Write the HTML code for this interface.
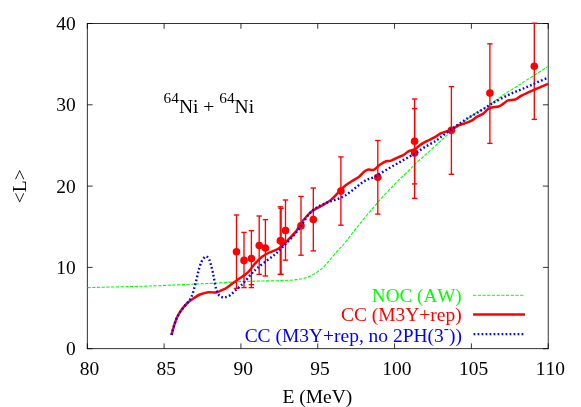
<!DOCTYPE html><html><head><meta charset="utf-8"><title>plot</title><style>html,body{margin:0;padding:0;background:#fff}svg{display:block;will-change:transform}text{font-kerning:none;font-family:"Liberation Serif",serif;font-size:18.8px;fill:#000}</style></head><body>
<svg width="581" height="407" viewBox="0 0 581 407">
<rect width="581" height="407" fill="#fff"/>
<g stroke="#000" stroke-width="0.8" fill="none">
<rect x="87.30" y="23.50" width="460.90" height="325.20"/>
<path d="M87.30 348.70V343.40M87.30 23.50V28.80"/>
<path d="M164.12 348.70V343.40M164.12 23.50V28.80"/>
<path d="M240.93 348.70V343.40M240.93 23.50V28.80"/>
<path d="M317.75 348.70V343.40M317.75 23.50V28.80"/>
<path d="M394.57 348.70V343.40M394.57 23.50V28.80"/>
<path d="M471.38 348.70V343.40M471.38 23.50V28.80"/>
<path d="M548.20 348.70V343.40M548.20 23.50V28.80"/>
<path d="M87.30 348.70H92.60M548.20 348.70H542.90"/>
<path d="M87.30 267.40H92.60M548.20 267.40H542.90"/>
<path d="M87.30 186.10H92.60M548.20 186.10H542.90"/>
<path d="M87.30 104.80H92.60M548.20 104.80H542.90"/>
<path d="M87.30 23.50H92.60M548.20 23.50H542.90"/>
</g>
<text transform="translate(89.50,374.50) scale(1.0367,1)" text-anchor="middle">80</text>
<text transform="translate(166.32,374.50) scale(1.0367,1)" text-anchor="middle">85</text>
<text transform="translate(243.13,374.50) scale(1.0367,1)" text-anchor="middle">90</text>
<text transform="translate(319.95,374.50) scale(1.0367,1)" text-anchor="middle">95</text>
<text transform="translate(396.77,374.50) scale(1.0367,1)" text-anchor="middle">100</text>
<text transform="translate(473.58,374.50) scale(1.0367,1)" text-anchor="middle">105</text>
<text transform="translate(550.40,374.50) scale(1.0367,1)" text-anchor="middle">110</text>
<text transform="translate(75.70,355.10) scale(1.0367,1)" text-anchor="end">0</text>
<text transform="translate(75.70,273.80) scale(1.0367,1)" text-anchor="end">10</text>
<text transform="translate(75.70,192.50) scale(1.0367,1)" text-anchor="end">20</text>
<text transform="translate(75.70,111.20) scale(1.0367,1)" text-anchor="end">30</text>
<text transform="translate(75.70,29.90) scale(1.0367,1)" text-anchor="end">40</text>
<text transform="translate(317.30,403.30) scale(1.0367,1)" text-anchor="middle">E (MeV)</text>
<text transform="translate(25.5,186.3) rotate(-90) scale(1.0367,1)" text-anchor="middle">&lt;L&gt;</text>
<text transform="translate(163.60,112.60) scale(1.0386,1)" text-anchor="start"><tspan font-size="14.8" dy="-9.6">64</tspan><tspan dy="9.6">Ni + </tspan><tspan font-size="14.8" dy="-9.6">64</tspan><tspan dy="9.6">Ni</tspan></text>
<path d="M87.60 287.60 C98.00 287.33 131.98 286.60 150.00 286.00 C168.02 285.40 184.03 284.52 195.70 284.00 C207.37 283.48 212.50 283.30 220.00 282.90 C227.50 282.50 233.82 281.92 240.70 281.60 C247.58 281.28 254.42 281.17 261.30 281.00 C268.18 280.83 276.15 280.83 282.00 280.60 C287.85 280.37 292.28 280.12 296.40 279.60 C300.52 279.08 303.60 278.53 306.70 277.50 C309.80 276.47 312.23 275.12 315.00 273.40 C317.77 271.68 320.55 269.78 323.30 267.20 C326.05 264.62 328.72 261.07 331.50 257.90 C334.28 254.73 338.05 250.35 340.00 248.20 C341.95 246.05 340.08 248.83 343.20 245.00 C346.32 241.17 352.88 232.37 358.70 225.20 C364.52 218.03 371.63 209.32 378.10 202.00 C384.57 194.68 392.35 186.55 397.50 181.30 C402.65 176.05 406.08 173.38 409.00 170.50 C411.92 167.62 412.77 166.17 415.00 164.00 C417.23 161.83 420.32 159.33 422.40 157.50 C424.48 155.67 425.27 155.02 427.50 153.00 C429.73 150.98 433.50 147.52 435.80 145.40 C438.10 143.28 439.07 142.28 441.30 140.30 C443.53 138.32 445.63 136.45 449.20 133.50 C452.77 130.55 458.22 126.05 462.70 122.60 C467.18 119.15 471.63 115.75 476.10 112.80 C480.57 109.85 485.03 107.83 489.50 104.90 C493.97 101.97 498.42 98.23 502.90 95.20 C507.38 92.17 512.52 89.17 516.40 86.70 C520.28 84.23 522.70 82.63 526.20 80.40 C529.70 78.17 533.73 75.65 537.40 73.30 C541.07 70.95 546.40 67.47 548.20 66.30" fill="none" stroke="#00ff00" stroke-width="1.1" stroke-dasharray="3.3 1.4"/>
<g stroke="#ff0000" stroke-width="1.35" fill="none">
<path d="M236.50 215.00V288.40"/>
<path d="M233.80 215.00H239.20"/>
<path d="M233.80 288.40H239.20"/>
<path d="M244.00 232.40V287.60"/>
<path d="M241.30 232.40H246.70"/>
<path d="M241.30 287.60H246.70"/>
<path d="M251.40 230.70V287.60"/>
<path d="M248.70 230.70H254.10"/>
<path d="M248.70 284.70H254.10"/>
<path d="M248.70 287.60H254.10"/>
<path d="M259.20 216.00V274.40"/>
<path d="M256.50 216.00H261.90"/>
<path d="M256.50 274.40H261.90"/>
<path d="M265.40 219.60V276.00"/>
<path d="M262.70 219.60H268.10"/>
<path d="M262.70 276.00H268.10"/>
<path d="M280.30 206.80V274.40"/>
<path d="M277.60 206.80H283.00"/>
<path d="M277.60 274.40H283.00"/>
<path d="M281.10 208.40V274.40"/>
<path d="M278.40 208.40H283.80"/>
<path d="M278.40 274.40H283.80"/>
<path d="M285.50 200.00V260.20"/>
<path d="M282.80 200.00H288.20"/>
<path d="M282.80 260.20H288.20"/>
<path d="M301.00 196.40V255.20"/>
<path d="M298.30 196.40H303.70"/>
<path d="M298.30 255.20H303.70"/>
<path d="M313.30 188.00V250.90"/>
<path d="M310.60 188.00H316.00"/>
<path d="M310.60 250.90H316.00"/>
<path d="M340.90 156.90V225.20"/>
<path d="M338.20 156.90H343.60"/>
<path d="M338.20 225.20H343.60"/>
<path d="M377.80 140.50V214.10"/>
<path d="M375.10 140.50H380.50"/>
<path d="M375.10 214.10H380.50"/>
<path d="M414.60 99.00V183.90"/>
<path d="M411.90 99.00H417.30"/>
<path d="M411.90 183.90H417.30"/>
<path d="M414.60 108.60V198.40"/>
<path d="M411.90 108.60H417.30"/>
<path d="M411.90 198.40H417.30"/>
<path d="M451.40 86.60V174.30"/>
<path d="M448.70 86.60H454.10"/>
<path d="M448.70 174.30H454.10"/>
<path d="M489.90 43.80V143.40"/>
<path d="M487.20 43.80H492.60"/>
<path d="M487.20 143.40H492.60"/>
<path d="M534.30 23.20V119.40"/>
<path d="M531.60 23.20H537.00"/>
<path d="M531.60 119.40H537.00"/>
</g>
<g fill="#ff0000">
<circle cx="236.50" cy="251.70" r="3.8"/>
<circle cx="244.00" cy="260.40" r="3.8"/>
<circle cx="251.40" cy="258.50" r="3.8"/>
<circle cx="259.20" cy="245.60" r="3.8"/>
<circle cx="265.40" cy="248.00" r="3.8"/>
<circle cx="280.30" cy="240.80" r="3.8"/>
<circle cx="281.10" cy="240.80" r="3.8"/>
<circle cx="285.50" cy="230.50" r="3.8"/>
<circle cx="301.00" cy="225.80" r="3.8"/>
<circle cx="313.30" cy="219.60" r="3.8"/>
<circle cx="340.90" cy="191.00" r="3.8"/>
<circle cx="377.80" cy="177.20" r="3.8"/>
<circle cx="414.60" cy="141.20" r="3.8"/>
<circle cx="414.60" cy="153.00" r="3.8"/>
<circle cx="451.40" cy="130.30" r="3.8"/>
<circle cx="489.90" cy="93.10" r="3.8"/>
<circle cx="534.30" cy="66.30" r="3.8"/>
</g>
<path d="M171.50 335.00 C171.92 333.47 173.08 328.72 174.00 325.80 C174.92 322.88 175.80 320.08 177.00 317.50 C178.20 314.92 179.63 312.55 181.20 310.30 C182.77 308.05 184.50 305.88 186.40 304.00 C188.30 302.12 190.35 300.58 192.60 299.00 C194.85 297.42 197.25 295.63 199.90 294.50 C202.55 293.37 205.77 292.53 208.50 292.20 C211.23 291.87 214.00 292.88 216.30 292.50 C218.60 292.12 220.68 290.60 222.30 289.90 C223.92 289.20 224.23 289.43 226.00 288.30 C227.77 287.17 230.60 284.77 232.90 283.10 C235.20 281.43 237.50 279.92 239.80 278.30 C242.10 276.68 244.87 274.95 246.70 273.40 C248.53 271.85 249.67 270.37 250.80 269.00 C251.93 267.63 252.35 266.57 253.50 265.20 C254.65 263.83 256.32 262.18 257.70 260.80 C259.08 259.42 260.20 258.12 261.80 256.90 C263.40 255.68 265.23 254.53 267.30 253.50 C269.37 252.47 272.13 251.65 274.20 250.70 C276.27 249.75 277.87 249.10 279.70 247.80 C281.53 246.50 283.37 244.67 285.20 242.90 C287.03 241.13 288.83 239.18 290.70 237.20 C292.57 235.22 294.77 233.25 296.40 231.00 C298.03 228.75 298.43 226.53 300.50 223.70 C302.57 220.87 306.88 216.07 308.80 214.00 C310.72 211.93 310.55 212.32 312.00 211.30 C313.45 210.28 315.43 209.10 317.50 207.90 C319.57 206.70 322.10 205.48 324.40 204.10 C326.70 202.72 329.23 201.27 331.30 199.60 C333.37 197.93 334.50 196.40 336.80 194.10 C339.10 191.80 342.57 187.98 345.10 185.80 C347.63 183.62 349.72 182.48 352.00 181.00 C354.28 179.52 356.73 178.48 358.80 176.90 C360.87 175.32 362.78 172.73 364.40 171.50 C366.02 170.27 366.95 169.77 368.50 169.50 C370.05 169.23 371.80 170.70 373.70 169.90 C375.60 169.10 377.83 166.15 379.90 164.70 C381.97 163.25 384.22 161.88 386.10 161.20 C387.98 160.52 389.13 161.28 391.20 160.60 C393.27 159.92 396.48 158.00 398.50 157.10 C400.52 156.20 401.58 156.18 403.30 155.20 C405.02 154.22 406.85 152.20 408.80 151.20 C410.75 150.20 413.02 150.30 415.00 149.20 C416.98 148.10 418.62 146.00 420.70 144.60 C422.78 143.20 425.22 142.00 427.50 140.80 C429.78 139.60 432.10 138.67 434.40 137.40 C436.70 136.13 439.23 134.23 441.30 133.20 C443.37 132.17 445.18 131.68 446.80 131.20 C448.42 130.72 449.17 131.22 451.00 130.30 C452.83 129.38 455.52 126.85 457.80 125.70 C460.08 124.55 462.40 124.25 464.70 123.40 C467.00 122.55 469.53 121.73 471.60 120.60 C473.67 119.47 475.23 117.72 477.10 116.60 C478.97 115.48 480.73 115.30 482.80 113.90 C484.87 112.50 486.88 109.43 489.50 108.20 C492.12 106.97 496.17 107.27 498.50 106.50 C500.83 105.73 501.90 104.62 503.50 103.60 C505.10 102.58 506.10 101.10 508.10 100.40 C510.10 99.70 513.28 100.20 515.50 99.40 C517.72 98.60 519.20 96.80 521.40 95.60 C523.60 94.40 526.50 93.18 528.70 92.20 C530.90 91.22 532.38 90.68 534.60 89.70 C536.82 88.72 539.73 87.28 542.00 86.30 C544.27 85.32 547.17 84.22 548.20 83.80" fill="none" stroke="#ff0000" stroke-width="2.5" stroke-linejoin="round"/>
<path d="M171.50 335.00 C171.92 333.47 173.08 328.72 174.00 325.80 C174.92 322.88 175.80 320.08 177.00 317.50 C178.20 314.92 179.63 312.55 181.20 310.30 C182.77 308.05 184.75 306.10 186.40 304.00 C188.05 301.90 189.85 300.15 191.10 297.70 C192.35 295.25 192.98 292.42 193.90 289.30 C194.82 286.18 195.80 282.22 196.60 279.00 C197.40 275.78 197.88 272.87 198.70 270.00 C199.52 267.13 200.58 263.87 201.50 261.80 C202.42 259.73 203.40 258.50 204.20 257.60 C205.00 256.70 205.50 256.17 206.30 256.40 C207.10 256.63 208.20 257.53 209.00 259.00 C209.80 260.47 210.45 262.90 211.10 265.20 C211.75 267.50 212.33 270.17 212.90 272.80 C213.47 275.43 213.95 278.25 214.50 281.00 C215.05 283.75 215.50 287.00 216.20 289.30 C216.90 291.60 217.72 293.50 218.70 294.80 C219.68 296.10 220.97 296.70 222.10 297.10 C223.23 297.50 224.12 297.55 225.50 297.20 C226.88 296.85 228.78 296.10 230.40 295.00 C232.02 293.90 233.60 292.03 235.20 290.60 C236.80 289.17 238.57 287.72 240.00 286.40 C241.43 285.08 241.97 284.70 243.80 282.70 C245.63 280.70 248.77 276.82 251.00 274.40 C253.23 271.98 254.45 270.60 257.20 268.20 C259.95 265.80 264.40 262.40 267.50 260.00 C270.60 257.60 273.38 255.87 275.80 253.80 C278.22 251.73 279.60 250.02 282.00 247.60 C284.40 245.18 287.63 242.07 290.20 239.30 C292.77 236.53 295.68 233.08 297.40 231.00 C299.12 228.92 298.60 229.57 300.50 226.80 C302.40 224.03 306.05 217.67 308.80 214.40 C311.55 211.13 314.40 208.98 317.00 207.20 C319.60 205.42 322.02 204.73 324.40 203.70 C326.78 202.67 329.00 201.80 331.30 201.00 C333.60 200.20 335.90 199.82 338.20 198.90 C340.50 197.98 342.80 196.88 345.10 195.50 C347.40 194.12 349.72 192.33 352.00 190.60 C354.28 188.87 356.52 186.82 358.80 185.10 C361.08 183.38 363.22 181.62 365.70 180.30 C368.18 178.98 370.65 178.72 373.70 177.20 C376.75 175.68 380.57 173.20 384.00 171.20 C387.43 169.20 390.85 167.18 394.30 165.20 C397.75 163.22 401.25 161.27 404.70 159.30 C408.15 157.33 411.57 155.48 415.00 153.40 C418.43 151.32 421.87 148.87 425.30 146.80 C428.73 144.73 433.10 142.55 435.60 141.00 C438.10 139.45 437.28 139.73 440.30 137.50 C443.32 135.27 449.23 130.75 453.70 127.60 C458.17 124.45 462.62 121.40 467.10 118.60 C471.58 115.80 476.92 113.02 480.60 110.80 C484.28 108.58 486.83 106.78 489.20 105.30 C491.57 103.82 492.38 103.25 494.80 101.90 C497.22 100.55 500.75 98.68 503.70 97.20 C506.65 95.72 509.55 94.32 512.50 93.00 C515.45 91.68 518.45 90.53 521.40 89.30 C524.35 88.07 527.27 86.90 530.20 85.60 C533.13 84.30 536.00 82.82 539.00 81.50 C542.00 80.18 546.67 78.33 548.20 77.70" fill="none" stroke="#0000ff" stroke-width="2.4" stroke-dasharray="1.7 2.3"/>
<text transform="translate(461.70,302.10) scale(1.0190,1)" text-anchor="end" style="fill:#00ff00">NOC (AW)</text>
<text transform="translate(461.70,321.20) scale(1.0367,1)" text-anchor="end" style="fill:#ff0000">CC (M3Y+rep)</text>
<text transform="translate(461.90,342.10) scale(1.0367,1)" text-anchor="end" style="fill:#0000ff">CC (M3Y+rep, no 2PH(3<tspan font-size="14.8" dy="-9">-</tspan><tspan dy="9">))</tspan></text>
<path d="M473.1 295.3H525" stroke="#00ff00" stroke-width="1" stroke-dasharray="3.2 1.5"/>
<path d="M473.1 314.5H525" stroke="#ff0000" stroke-width="2.5"/>
<path d="M473.6 334.1H525" stroke="#0000ff" stroke-width="2.4" stroke-dasharray="1.7 2.3"/>
</svg></body></html>
